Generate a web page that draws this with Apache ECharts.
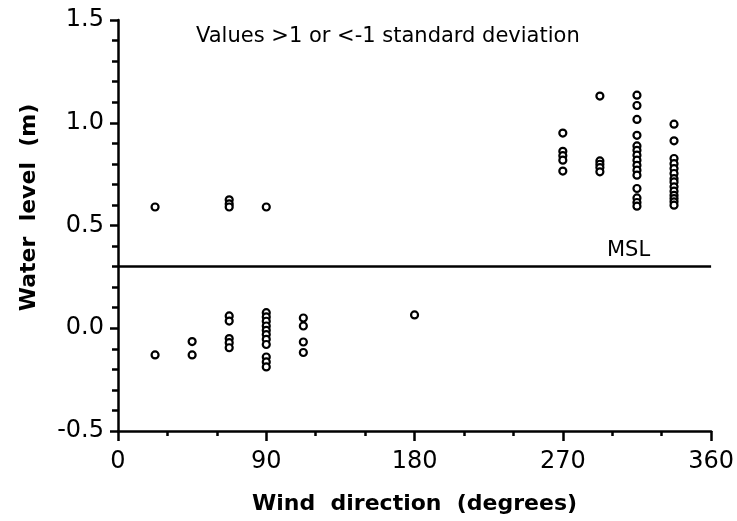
<!DOCTYPE html>
<html>
<head>
<meta charset="utf-8">
<script src="https://cdn.jsdelivr.net/npm/echarts@6/dist/echarts.min.js"></script>
<style>
html,body{margin:0;padding:0;background:#fff;}
#chart{width:737px;height:521px;}
</style>
</head>
<body>
<div id="chart"></div>
<script>
// Wind direction (degrees) of each column of points
const directions = [22.5, 45, 67.5, 90, 112.5, 180, 270, 292.5, 315, 337.5];
// Water level (m) values observed at each direction
const levels22 = [0.59, -0.13];
const levels45 = [-0.065, -0.13];
const levels67 = [0.625, 0.605, 0.59, 0.06, 0.035, -0.05, -0.07, -0.095];
const levels90 = [0.59, 0.076, 0.055, 0.034, 0.011, -0.01, -0.031, -0.054, -0.079, -0.14, -0.164, -0.188];
const levels112 = [0.05, 0.011, -0.067, -0.118];
const levels180 = [0.065];
const levels270 = [0.95, 0.861, 0.84, 0.818, 0.765];
const levels292 = [1.13, 0.814, 0.798, 0.782, 0.761];
const levels315 = [1.134, 1.084, 1.016, 0.939, 0.887, 0.866, 0.842, 0.818, 0.793, 0.769, 0.745, 0.68, 0.634, 0.612, 0.594];
const levels337 = [0.993, 0.912, 0.826, 0.801, 0.777, 0.753, 0.728, 0.712, 0.688, 0.667, 0.647, 0.631, 0.615, 0.599];
const levelsByDirection = [levels22, levels45, levels67, levels90, levels112, levels180, levels270, levels292, levels315, levels337];
const mslLevel = 0.3;
const titleText = 'Values >1 or <-1 standard deviation';
const xName = 'Wind  direction  (degrees)';
const yName = 'Water  level  (m)';

const points = [];
directions.forEach((d, i) => levelsByDirection[i].forEach(v => points.push([d, v])));

const chart = echarts.init(document.getElementById('chart'), null, {renderer: 'canvas'});
const font = 'DejaVu Sans';
chart.setOption({
  animation: false,
  backgroundColor: '#fff',
  title: {
    text: titleText,
    left: 191,
    top: 21,
    textStyle: {fontFamily: font, fontSize: 21, fontWeight: 'normal', color: '#000'}
  },
  grid: {left: 118, right: 24, top: 20, bottom: 90, containLabel: false},
  xAxis: {
    type: 'value',
    min: 0, max: 360, interval: 90,
    name: xName,
    nameLocation: 'middle',
    nameGap: 62,
    nameTextStyle: {fontFamily: font, fontSize: 22, fontWeight: 'bold', color: '#000', padding: [0, 0, 0, 0]},
    axisLine: {show: true, onZero: false, lineStyle: {color: '#000', width: 2.5}},
    axisTick: {show: true, length: 10, lineStyle: {color: '#000', width: 2.5}},
    minorTick: {show: true, splitNumber: 3, length: 5, lineStyle: {color: '#000', width: 2.5}},
    splitLine: {show: false},
    axisLabel: {margin: 19, fontFamily: font, fontSize: 24, color: '#000'}
  },
  yAxis: {
    type: 'value',
    min: -0.5, max: 1.5, interval: 0.5,
    name: yName,
    nameLocation: 'middle',
    nameGap: 78,
    nameTextStyle: {fontFamily: font, fontSize: 22, fontWeight: 'bold', color: '#000', padding: [0, 0, 0, 36]},
    axisLine: {show: true, onZero: false, lineStyle: {color: '#000', width: 2.5}},
    axisTick: {show: true, length: 8, lineStyle: {color: '#000', width: 2.5}},
    minorTick: {show: true, splitNumber: 5, length: 6, lineStyle: {color: '#000', width: 2.5}},
    splitLine: {show: false},
    axisLabel: {margin: 14, fontFamily: font, fontSize: 24, color: '#000', formatter: v => v.toFixed(1)}
  },
  series: [{
    type: 'scatter',
    data: points,
    symbol: 'circle',
    symbolSize: 7,
    itemStyle: {color: '#fff', borderColor: '#000', borderWidth: 2.2, opacity: 1},
    markLine: {
      silent: true,
      symbol: ['none', 'none'],
      lineStyle: {color: '#000', width: 2.5, type: 'solid'},
      label: {
        show: true,
        formatter: 'MSL',
        position: 'insideEndTop',
        distance: [61, 6],
        fontFamily: font, fontSize: 21, color: '#000'
      },
      data: [{yAxis: mslLevel}]
    }
  }]
});
</script>
</body>
</html>
